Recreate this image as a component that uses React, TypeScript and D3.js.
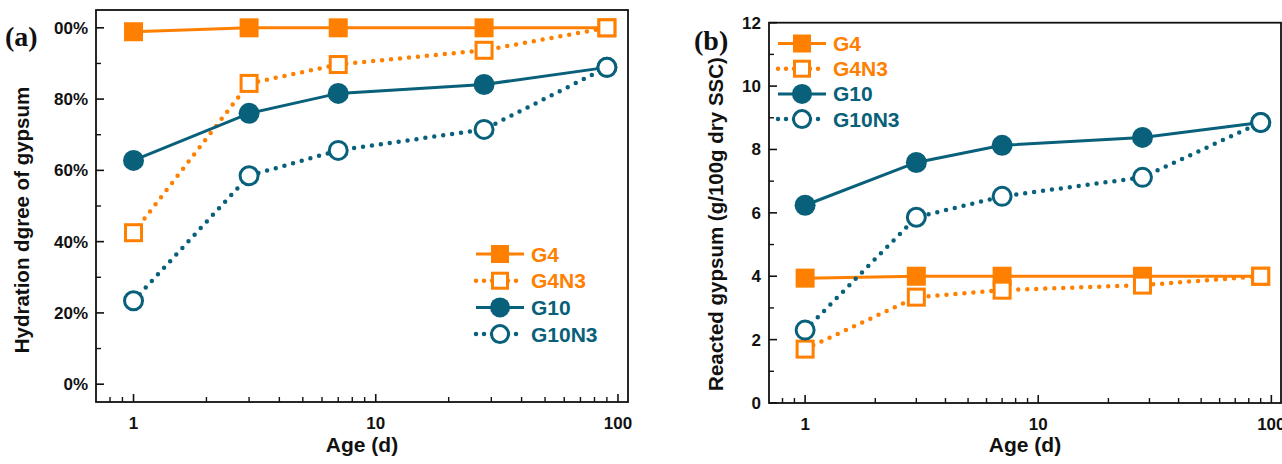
import React from "react";
import * as d3 from "d3";

const AGES = [1, 3, 7, 28, 90];
const SERIES_NAMES = ["G4", "G4N3", "G10", "G10N3"];
const HYD_G4 = [98.9, 100, 100, 100, 100];
const HYD_G4N3 = [42.5, 84.4, 89.7, 93.7, 100];
const HYD_G10 = [62.8, 76.0, 81.6, 84.1, 88.9];
const HYD_G10N3 = [23.4, 58.5, 65.6, 71.5, 88.9];
const RG_G4 = [3.94, 4.0, 4.0, 4.0, 4.0];
const RG_G4N3 = [1.7, 3.34, 3.56, 3.72, 4.0];
const RG_G10 = [6.24, 7.59, 8.13, 8.38, 8.85];
const RG_G10N3 = [2.3, 5.86, 6.52, 7.12, 8.85];
const X_MAJOR = [1, 10, 100];
const X_MINOR = [0.8, 0.9, 2, 3, 4, 5, 6, 7, 8, 9, 20, 30, 40, 50, 60, 70, 80, 90];
const HYD_TICKS = [0, 20, 40, 60, 80, 100];
const HYD_TICK_LABELS = ["0%", "20%", "40%", "60%", "80%", "00%"];
const HYD_MINOR = [10, 30, 50, 70, 90];
const RG_TICKS = [0, 2, 4, 6, 8, 10, 12];
const RG_MINOR = [1, 3, 5, 7, 9, 11];

const ORANGE = "#FF8000";
const TEAL = "#08607A";
const FONT = "'Liberation Sans', Arial, Helvetica, sans-serif";

type Style = { color: string; dotted: boolean; shape: "square" | "circle"; filled: boolean };
const STYLES: Style[] = [
  { color: ORANGE, dotted: false, shape: "square", filled: true },
  { color: ORANGE, dotted: true, shape: "square", filled: false },
  { color: TEAL, dotted: false, shape: "circle", filled: true },
  { color: TEAL, dotted: true, shape: "circle", filled: false },
];

function Marker({ x, y, s, size }: { x: number; y: number; s: Style; size: number }) {
  if (s.shape === "square") {
    if (s.filled) return <rect x={x - size / 2} y={y - size / 2} width={size} height={size} fill={s.color} />;
    const w = size - 3;
    return <rect x={x - w / 2} y={y - w / 2} width={w} height={w} fill="white" stroke={s.color} strokeWidth={3} />;
  }
  const cs = size + 2;
  if (s.filled) return <circle cx={x} cy={y} r={cs / 2} fill={s.color} />;
  return <circle cx={x} cy={y} r={(cs - 3) / 2} fill="white" stroke={s.color} strokeWidth={3} />;
}

type PanelProps = {
  x0: number; x1: number; y0: number; y1: number;
  yDomain: [number, number];
  yTicks: number[]; yLabels: string[]; yMinor: number[];
  series: number[][];
  yTitle: string; letter: string; letterX: number; letterY: number;
  legendX: number; legendY: number; legendStep: number;
  yTitleX: number; yTitleY: number;
};

function Panel(p: PanelProps) {
  const x = d3.scaleLog().domain([0.7, 110]).range([p.x0, p.x1]);
  const y = d3.scaleLinear().domain(p.yDomain).range([p.y1, p.y0]);
  const line = d3.line<[number, number]>().x((d) => x(d[0])).y((d) => y(d[1]));
  return (
    <g>
      <rect x={p.x0} y={p.y0} width={p.x1 - p.x0} height={p.y1 - p.y0} fill="none" stroke="#111" strokeWidth={1.8} />
      {X_MAJOR.map((t) => (
        <g key={"xm" + t}>
          <line x1={x(t)} x2={x(t)} y1={p.y1} y2={p.y1 - 8} stroke="#111" strokeWidth={1.6} />
          <text x={x(t)} y={p.y1 + 27} textAnchor="middle" fontFamily={FONT} fontWeight="bold" fontSize={17} fill="#111">{t}</text>
        </g>
      ))}
      {X_MINOR.map((t) => (
        <line key={"xn" + t} x1={x(t)} x2={x(t)} y1={p.y1} y2={p.y1 - 5} stroke="#111" strokeWidth={1.4} />
      ))}
      {p.yTicks.map((t, i) => (
        <g key={"ym" + t}>
          <line x1={p.x0} x2={p.x0 + 8} y1={y(t)} y2={y(t)} stroke="#111" strokeWidth={1.6} />
          <text x={p.x0 - 8} y={y(t) + 6} textAnchor="end" fontFamily={FONT} fontWeight="bold" fontSize={17} fill="#111">{p.yLabels[i]}</text>
        </g>
      ))}
      {p.yMinor.map((t) => (
        <line key={"yn" + t} x1={p.x0} x2={p.x0 + 5} y1={y(t)} y2={y(t)} stroke="#111" strokeWidth={1.4} />
      ))}
      <text x={(p.x0 + p.x1) / 2} y={452} textAnchor="middle" fontFamily={FONT} fontWeight="bold" fontSize={21} fill="#111">Age (d)</text>
      <text transform={`translate(${p.yTitleX},${p.yTitleY}) rotate(-90)`} textAnchor="middle" fontFamily={FONT} fontWeight="bold" fontSize={20.5} fill="#111">{p.yTitle}</text>
      <text x={p.letterX} y={p.letterY} fontFamily="'Liberation Serif', 'Times New Roman', serif" fontWeight="bold" fontSize={28} fill="#111">{p.letter}</text>
      {p.series.map((vals, i) => {
        const s = STYLES[i];
        const pts = AGES.map((a, j) => [a, vals[j]] as [number, number]);
        return (
          <g key={"s" + i}>
            <path d={line(pts) || ""} fill="none" stroke={s.color}
              strokeWidth={s.dotted ? 4.5 : 3}
              strokeDasharray={s.dotted ? "0 9" : undefined}
              strokeLinecap={s.dotted ? "round" : "butt"} />
            {pts.map((d, j) => (
              <Marker key={j} x={x(d[0])} y={y(d[1])} s={s} size={19} />
            ))}
          </g>
        );
      })}
      {SERIES_NAMES.map((n, i) => {
        const s = STYLES[i];
        const ly = p.legendY + i * p.legendStep;
        const lx = p.legendX;
        return (
          <g key={"l" + n}>
            <line x1={lx} x2={lx + 48} y1={ly} y2={ly} stroke={s.color}
              strokeWidth={s.dotted ? 4.5 : 3}
              strokeDasharray={s.dotted ? "0 8" : undefined}
              strokeLinecap={s.dotted ? "round" : "butt"} />
            <Marker x={lx + 24} y={ly} s={s} size={18} />
            <text x={lx + 55} y={ly + 7.5} fontFamily={FONT} fontWeight="bold" fontSize={21} fill={s.color}>{n}</text>
          </g>
        );
      })}
    </g>
  );
}

export default function App() {
  return (
    <svg width={1282} height={464} style={{ position: "absolute", left: 0, top: 0, background: "white" }}>
      <rect width={1282} height={464} fill="white" />
      <Panel x0={96} x1={628} y0={10} y1={402} yDomain={[-5, 105]}
        yTicks={HYD_TICKS} yLabels={HYD_TICK_LABELS} yMinor={HYD_MINOR}
        series={[HYD_G4, HYD_G4N3, HYD_G10, HYD_G10N3]}
        yTitle="Hydration dgree of gypsum" letter="(a)" letterX={5} letterY={46}
        legendX={476} legendY={254} legendStep={26.7} yTitleX={29} yTitleY={220} />
      <Panel x0={769} x1={1281} y0={22.7} y1={403} yDomain={[0, 12]}
        yTicks={RG_TICKS} yLabels={RG_TICKS.map(String)} yMinor={RG_MINOR}
        series={[RG_G4, RG_G4N3, RG_G10, RG_G10N3]}
        yTitle="Reacted gypsum (g/100g dry SSC)" letter="(b)" letterX={694} letterY={50}
        legendX={778} legendY={43.5} legendStep={25.2} yTitleX={723} yTitleY={224} />
    </svg>
  );
}
